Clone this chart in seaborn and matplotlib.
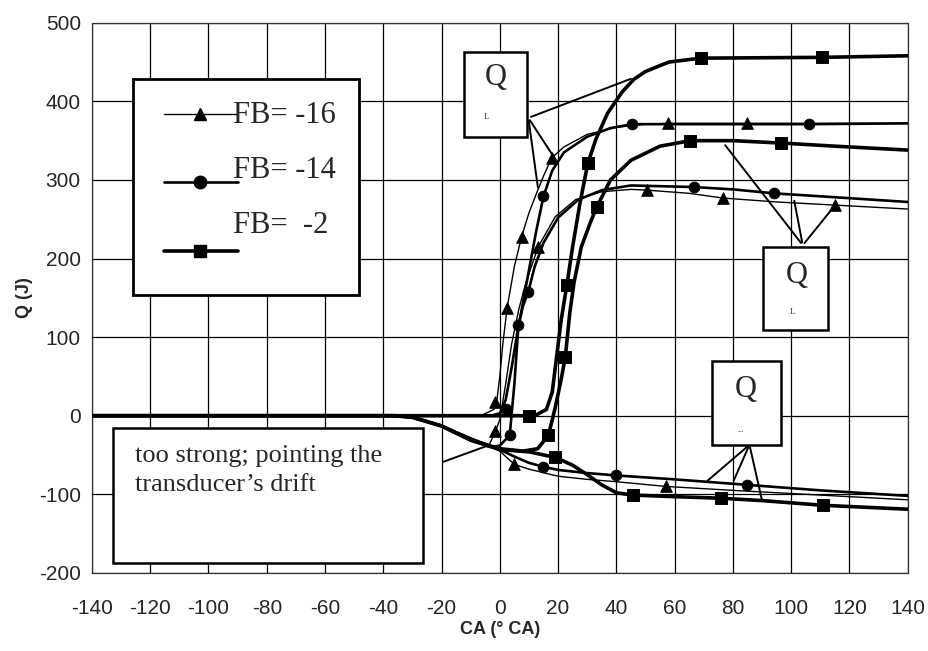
import numpy as np
import pandas as pd
import matplotlib
matplotlib.use('Agg')
import matplotlib.pyplot as plt
import seaborn as sns
from matplotlib.patches import Rectangle
from matplotlib.lines import Line2D

# crank angle (deg CA) / heat release Q (J)
# FB = -16 (triangles)
tri_top_x = [-140, -20, -6, -2, -1, 0, 1, 2.5, 5, 7.5, 10, 12.6, 15, 17.8, 22, 30, 40, 50, 57.6, 85, 140]
tri_top_q = [0, 0, 1, 8, 20, 50, 90, 137, 190, 228, 258, 283, 305, 328, 342, 358, 367, 371, 372, 372, 372]
tri_mid_x = [-140, -36, -30, -20, -10, -4, -1.5, 0, 2, 4, 6.5, 9, 13.2, 19, 26, 35, 45, 50.6, 65, 76.5, 95, 115, 140]
tri_mid_q = [0, 0, -2, -13, -29, -40, -20, -5, 40, 90, 135, 170, 215, 253, 275, 285, 288, 287, 283, 277, 272, 268, 263]
tri_low_x = [-140, -36, -30, -20, -10, 0, 5, 10, 20, 30, 40, 57, 80, 100, 120, 140]
tri_low_q = [0, 0, -2, -13, -29, -45, -62, -68, -77, -81, -84, -90, -95, -99, -103, -107]
tri_mk_x = [-1.5, 2.5, 7.5, 17.8, 57.6, 85, -1.5, 13.2, 50.6, 76.5, 115, 5, 57]
tri_mk_q = [18, 137, 228, 328, 372, 372, -20, 215, 287, 277, 268, -62, -90]

# FB = -14 (circles)
cir_top_x = [-140, -3, 0, 2, 4, 6, 8, 10, 12.5, 15, 18, 22, 30, 38, 45.5, 106, 140]
cir_top_q = [0, 0, 3, 20, 60, 105, 145, 185, 235, 279, 312, 335, 355, 366, 371, 371, 372]
cir_mid_x = [-140, -36, -30, -20, -10, -3, 0, 3.4, 5, 6.4, 8, 9.8, 12, 15, 20, 27, 35, 45, 66.5, 80, 94, 115, 140]
cir_mid_q = [0, 0, -2, -13, -29, -40, -38, -25, 40, 115, 140, 158, 190, 220, 252, 275, 287, 293, 291, 288, 283, 278, 272]
cir_low_x = [-140, -36, -30, -20, -10, 0, 5, 10, 15, 20, 30, 40, 60, 85, 110, 140]
cir_low_q = [0, 0, -2, -13, -29, -43, -52, -60, -65, -69, -73, -76, -81, -88, -95, -102]
cir_mk_x = [2.2, 6.4, 15, 45.5, 106, 3.4, 9.8, 66.5, 94, 15, 40, 85]
cir_mk_q = [8, 115, 279, 371, 371, -25, 158, 291, 283, -65, -76, -88]

# FB = -2 (squares)
sq_top_x = [-140, 12, 16, 18, 19.5, 21, 23, 25, 27.5, 30.2, 33, 37, 42, 46, 50, 58, 69, 110.5, 140]
sq_top_q = [0, 0, 8, 30, 75, 120, 166, 215, 270, 321, 352, 385, 412, 428, 438, 450, 455, 456, 458]
sq_mid_x = [-140, -36, -30, -20, -10, 0, 8, 13, 16.7, 19, 21, 22.5, 24, 25.5, 28, 31, 33.2, 38, 45, 55, 65.4, 80, 96.4, 115, 140]
sq_mid_q = [0, 0, -2, -13, -31, -42, -45, -42, -25, 10, 45, 75, 130, 170, 215, 245, 265, 300, 325, 343, 350, 350, 347, 343, 338]
sq_low_x = [-140, -36, -30, -20, -10, 0, 10, 19, 25, 30, 35, 40, 45.6, 60, 75.8, 90, 111, 140]
sq_low_q = [0, 0, -2, -13, -31, -43, -46, -53, -63, -75, -88, -98, -101, -103, -105, -108, -114, -119]
sq_mk_x = [10, 23, 30.2, 69, 110.5, 16.7, 22.5, 33.2, 65.4, 96.4, 19, 45.6, 75.8, 111]
sq_mk_q = [0, 166, 321, 455, 456, -25, 75, 265, 350, 347, -53, -101, -105, -114]

x_ticks = list(range(-140, 141, 20))
y_ticks = list(range(-200, 501, 100))
legend_labels = ['FB= -16', 'FB= -14', 'FB=  -2']

sns.set_style('white')
plt.rcParams['font.family'] = ['Liberation Sans', 'DejaVu Sans']
plt.rcParams['axes.unicode_minus'] = False

fig = plt.figure(figsize=(9.29, 6.51), dpi=100)
ax = fig.add_axes([0.099, 0.120, 0.878, 0.845])

series = [
    (tri_top_x, tri_top_q, 1.0), (tri_mid_x, tri_mid_q, 1.0), (tri_low_x, tri_low_q, 1.0),
    (cir_top_x, cir_top_q, 1.9), (cir_mid_x, cir_mid_q, 1.9), (cir_low_x, cir_low_q, 1.9),
    (sq_top_x, sq_top_q, 2.6), (sq_mid_x, sq_mid_q, 2.6), (sq_low_x, sq_low_q, 2.6),
]
for xs, qs, lw in series:
    sns.lineplot(x=xs, y=qs, sort=False, estimator=None, color='black', lw=lw, ax=ax, zorder=3)

sns.scatterplot(x=tri_mk_x, y=tri_mk_q, marker='^', s=70, color='black', edgecolor='black', ax=ax, zorder=4)
sns.scatterplot(x=cir_mk_x, y=cir_mk_q, marker='o', s=60, color='black', edgecolor='black', ax=ax, zorder=4)
sns.scatterplot(x=sq_mk_x, y=sq_mk_q, marker='s', s=70, color='black', edgecolor='black', ax=ax, zorder=4)

ax.set_xlim(-140, 140)
ax.set_ylim(-200, 500)
ax.set_xticks(x_ticks)
ax.set_yticks(y_ticks)
ax.grid(True, color='black', lw=0.9)
ax.set_axisbelow(True)
ax.tick_params(axis='both', length=0, labelsize=15)
ax.tick_params(axis='x', pad=19)
ax.tick_params(axis='y', pad=8)
for sp in ax.spines.values():
    sp.set_color('#333333')
    sp.set_linewidth(0.9)
    sp.set_linestyle((0, (3, 1)))
ax.set_xlabel('CA (° CA)', fontsize=13, fontweight='bold', labelpad=2)
ax.set_ylabel('Q (J)', fontsize=13, fontweight='bold', labelpad=4)

# legend box drawn by hand (text sits above-right of each sample line)
ax.add_patch(Rectangle((0.050, 0.505), 0.277, 0.393, transform=ax.transAxes,
                       facecolor='white', edgecolor='black', lw=2, zorder=6))
leg_y = [0.834, 0.711, 0.585]
leg_txt_y = [0.831, 0.731, 0.631]
leg_mk = ['^', 'o', 's']
leg_lw = [1.0, 1.9, 2.6]
for yy, ty, mk, lw, lab in zip(leg_y, leg_txt_y, leg_mk, leg_lw, legend_labels):
    ax.add_line(Line2D([0.088, 0.179], [yy, yy], transform=ax.transAxes, color='black', lw=lw, zorder=7))
    ax.add_line(Line2D([0.132], [yy], transform=ax.transAxes, marker=mk, ms=9, color='black', zorder=7))
    ax.text(0.173, ty, lab, transform=ax.transAxes, fontsize=22, family='Liberation Serif',
            va='center', ha='left', zorder=8)

# Q label boxes with leader lines
q_boxes = [
    ((-12.2, 355), 21.7, 108, (-1.5, 431), (-4.5, 380), 'L', (9.8, 379),
     [(45.9, 430), (19.8, 322), (13.2, 287)]),
    ((90.5, 109), 22.0, 106, (102, 179), (100.5, 132), 'L', (104, 217),
     [(76.8, 347), (100.9, 277), (116, 272)]),
    ((73.0, -37), 23.7, 107, (84.5, 33), (82.6, -18), '...', (85.7, -37),
     [(70.6, -85), (79.9, -86), (90.2, -111)]),
]
for (x0, y0), w, h, qpos, spos, sub, org, targets in q_boxes:
    ax.add_patch(Rectangle((x0, y0), w, h, facecolor='white', edgecolor='black', lw=1.8, zorder=6))
    ax.text(qpos[0], qpos[1], 'Q', fontsize=22, family='Liberation Serif', ha='center', va='center', zorder=8)
    ax.text(spos[0], spos[1], sub, fontsize=6, family='Liberation Serif', ha='center', va='center', zorder=8)
    for tx, ty in targets:
        ax.annotate('', xy=(tx, ty), xytext=org,
                    arrowprops=dict(arrowstyle='-', color='black', lw=1.4), zorder=5)

# drift comment box
ax.add_patch(Rectangle((-132.8, -188), 106.5, 172, facecolor='white', edgecolor='black', lw=1.8, zorder=6))
ax.text(-125.3, -37, 'too strong; pointing the\ntransducer\u2019s drift', fontsize=19,
        family='Liberation Serif', ha='left', va='top', linespacing=1.42, zorder=8)
ax.annotate('', xy=(-3.3, -37), xytext=(-20.4, -60),
            arrowprops=dict(arrowstyle='-', color='black', lw=1.4), zorder=5)

fig.savefig('out.png', dpi=100)
